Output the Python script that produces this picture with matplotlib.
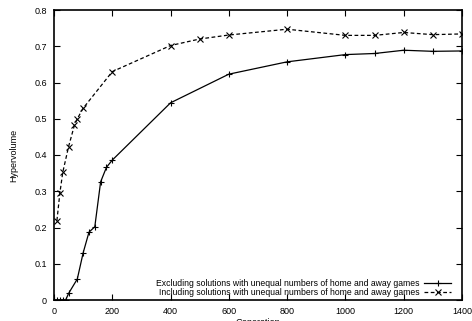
import matplotlib
matplotlib.use("Agg")
import matplotlib.pyplot as plt

plt.rcParams['font.family'] = ['Liberation Sans', 'DejaVu Sans']

excl_x = [0, 10, 20, 30, 40, 50, 80, 100, 120, 140, 160, 180, 200, 400, 600, 800, 1000, 1100, 1200, 1300, 1400]
excl_y = [0.0, 0.0, 0.0, 0.0, 0.0, 0.018, 0.058, 0.130, 0.187, 0.202, 0.326, 0.366, 0.386, 0.544, 0.623, 0.657, 0.677, 0.680, 0.689, 0.686, 0.687]

incl_x = [10, 20, 30, 50, 70, 80, 100, 200, 400, 500, 600, 800, 1000, 1100, 1200, 1300, 1400]
incl_y = [0.219, 0.294, 0.352, 0.423, 0.482, 0.500, 0.529, 0.630, 0.702, 0.720, 0.731, 0.747, 0.730, 0.730, 0.738, 0.732, 0.734]

labels = ["Excluding solutions with unequal numbers of home and away games",
          "Including solutions with unequal numbers of home and away games"]
xticks = [0, 200, 400, 600, 800, 1000, 1200, 1400]
yticks = [0, 0.1, 0.2, 0.3, 0.4, 0.5, 0.6, 0.7, 0.8]

fig = plt.figure(figsize=(4.72, 3.21), dpi=100)
ax = fig.add_axes([54/472, 1-300/321, (462-54)/472, 290/321])

ax.plot(excl_x, excl_y, color='black', lw=0.9, marker='+', ms=4.5, mew=0.8, label=labels[0])
ax.plot(incl_x, incl_y, color='black', lw=0.9, ls=(0, (3, 2)), marker='x', ms=3.8, mew=0.8, label=labels[1])

ax.set_xlim(0, 1400)
ax.set_ylim(0, 0.8)
ax.set_xticks(xticks)
ax.set_yticks(yticks)
ax.set_xticklabels([str(t) for t in xticks])
ax.set_yticklabels(['0' if t == 0 else f'{t:.1f}' for t in yticks])
ax.tick_params(direction='in', top=True, right=True, labelsize=6.5, length=4, width=0.8, pad=5)
for s in ax.spines.values():
    s.set_linewidth(1.2)

ax.set_ylabel('Hypervolume', fontsize=6.5)
ax.yaxis.set_label_coords(-0.088, 0.5)
ax.set_xlabel('Generation', fontsize=6.5)
ax.xaxis.set_label_coords(0.5, -0.062)

leg = ax.legend(loc='lower right', frameon=False, markerfirst=False, fontsize=6.2,
                handlelength=3.2, handletextpad=0.5, borderaxespad=0.0, borderpad=0.2,
                labelspacing=0.05, bbox_to_anchor=(0.978, 0.003))
for t in leg.get_texts():
    t.set_ha('right')

fig.savefig('out.png', dpi=100)
